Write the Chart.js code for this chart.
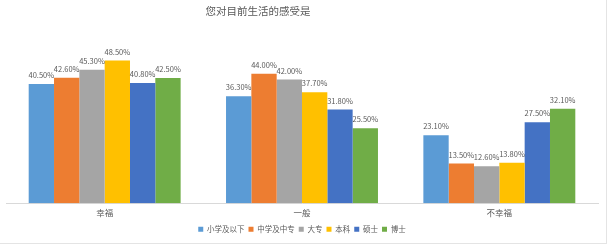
<!DOCTYPE html>
<html>
<head>
<meta charset="utf-8">
<script src="https://cdn.jsdelivr.net/npm/chart.js@4.4.1/dist/chart.umd.min.js"></script>
<style>
  html, body { margin: 0; padding: 0; background: #fff; }
  #wrap { width: 606px; height: 243px; border-right: 1px solid #e4e4e4; border-bottom: 1px solid #e4e4e4; }
</style>
</head>
<body>
<div id="wrap"><canvas id="lifeChart" width="606" height="243"></canvas></div>
<script>
// 感受类别 & 学历分组
const categories = ['幸福', '一般', '不幸福'];
const groups = ['小学及以下', '中学及中专', '大专', '本科', '硕士', '博士'];

// 各学历在三个类别中的百分比
const primary   = [40.5, 36.3, 23.1];
const middle    = [42.6, 44.0, 13.5];
const college   = [45.3, 42.0, 12.6];
const bachelor  = [48.5, 37.7, 13.8];
const master    = [40.8, 31.8, 27.5];
const doctor    = [42.5, 25.5, 32.1];

const colors = ['#5B9BD5', '#ED7D31', '#A5A5A5', '#FFC000', '#4472C4', '#70AD47'];
const seriesValues = [primary, middle, college, bachelor, master, doctor];

const fontFamily = '"Noto Sans CJK SC", "Noto Sans", sans-serif';

// 柱顶百分比标签
const valueLabels = {
    id: 'valueLabels',
    afterDatasetsDraw(chart) {
        const ctx = chart.ctx;
        ctx.save();
        ctx.font = '7.5px ' + fontFamily;
        ctx.fillStyle = '#595959';
        ctx.textAlign = 'center';
        ctx.textBaseline = 'bottom';
        chart.data.datasets.forEach((ds, i) => {
            chart.getDatasetMeta(i).data.forEach((bar, j) => {
                ctx.fillText(ds.data[j].toFixed(2) + '%', bar.x, bar.y - 5);
            });
        });
        ctx.restore();
    }
};

// 标题
const chartTitle = {
    id: 'chartTitle',
    afterDraw(chart) {
        const ctx = chart.ctx;
        ctx.save();
        ctx.font = '10.5px ' + fontFamily;
        ctx.fillStyle = '#595959';
        ctx.textAlign = 'center';
        ctx.textBaseline = 'middle';
        ctx.fillText('您对目前生活的感受是', 258, 11);
        ctx.restore();
    }
};

const ctx = document.getElementById('lifeChart').getContext('2d');
const lifeChart = new Chart(ctx, {
    type: 'bar',
    data: {
        labels: categories,
        datasets: groups.map((name, i) => ({
            label: name,
            data: seriesValues[i],
            backgroundColor: colors[i],
            borderWidth: 0,
            categoryPercentage: 0.77,
            barPercentage: 1.0
        }))
    },
    options: {
        responsive: false,
        animation: false,
        layout: { padding: { top: 56, left: 6, right: 8, bottom: 0 } },
        plugins: {
            legend: {
                position: 'bottom',
                labels: {
                    boxWidth: 5,
                    boxHeight: 5,
                    padding: 4,
                    color: '#595959',
                    font: { size: 7.5, family: fontFamily }
                }
            },
            tooltip: { enabled: false }
        },
        scales: {
            x: {
                grid: { display: false, drawTicks: false },
                border: { color: '#d9d9d9' },
                ticks: { color: '#595959', font: { size: 8.5, family: fontFamily }, padding: 4 }
            },
            y: {
                display: false,
                min: 0,
                max: 50
            }
        }
    },
    plugins: [valueLabels, chartTitle]
});
</script>
</body>
</html>
